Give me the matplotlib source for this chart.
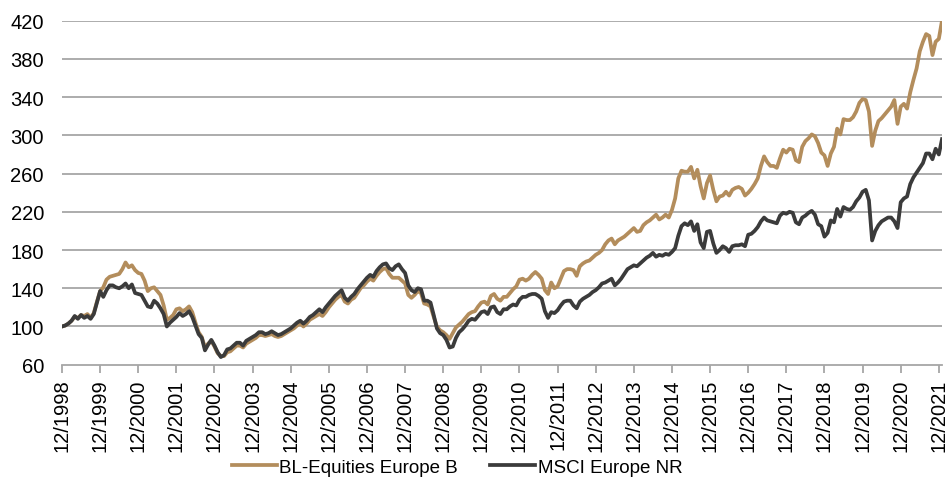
import matplotlib
matplotlib.use("Agg")
import matplotlib.pyplot as plt
import numpy as np

plt.rcParams['font.family'] = ['Liberation Sans', 'DejaVu Sans']

# Monthly index values, 12/1998 = 100
msci = [100,
    101, 103, 106, 111, 108, 112, 109, 111, 108, 113, 125, 137,   # 1999
    131, 138, 143, 143, 141, 140, 142, 145, 140, 144, 135, 134,   # 2000
    133, 127, 121, 120, 127, 124, 119, 113, 100, 104, 107, 110,   # 2001
    114, 111, 113, 116, 110, 101, 92, 88, 75, 81, 86, 80,         # 2002
    73, 68, 70, 76, 77, 80, 83, 83, 80, 85, 87, 89,               # 2003
    91, 94, 94, 92, 93, 95, 93, 91, 92, 94, 96, 98,               # 2004
    101, 104, 106, 103, 106, 110, 112, 115, 118, 115, 120, 124,   # 2005
    128, 132, 135, 138, 130, 127, 131, 134, 139, 143, 147, 151,   # 2006
    154, 152, 158, 162, 165, 166, 161, 159, 163, 165, 160, 156,   # 2007
    143, 138, 136, 140, 139, 127, 127, 125, 112, 98, 93, 91,      # 2008
    86, 78, 79, 88, 94, 97, 101, 106, 108, 107, 111, 115,         # 2009
    116, 113, 120, 121, 115, 113, 118, 118, 121, 123, 122, 128,   # 2010
    131, 131, 133, 134, 134, 132, 129, 116, 109, 115, 114, 117,   # 2011
    122, 126, 127, 127, 122, 119, 126, 129, 131, 133, 136, 138,   # 2012
    141, 145, 146, 148, 150, 143, 146, 150, 155, 160, 162, 164,   # 2013
    163, 166, 169, 172, 174, 177, 173, 175, 174, 176, 175, 178,   # 2014
    182, 195, 205, 208, 206, 210, 200, 207, 188, 182, 199, 200,   # 2015
    187, 177, 180, 184, 182, 178, 184, 185, 185, 186, 184, 196,   # 2016
    197, 200, 204, 210, 214, 211, 210, 209, 208, 216, 219, 218,   # 2017
    220, 219, 209, 207, 214, 216, 219, 221, 217, 207, 205, 194,   # 2018
    198, 211, 209, 223, 215, 225, 223, 222, 225, 231, 235, 241,   # 2019
    243, 232, 190, 200, 206, 210, 212, 214, 214, 210, 203, 230,   # 2020
    234, 236, 249, 256, 261, 266, 271, 281, 281, 275, 286, 280, 296]  # 2021

bl_equities = [100,
    101, 103, 106, 110, 109, 112, 111, 113, 109, 114, 126, 137,   # 1999
    141, 149, 152, 153, 154, 155, 160, 167, 162, 164, 159, 156,   # 2000
    155, 148, 137, 140, 141, 137, 133, 122, 107, 109, 112, 118,   # 2001
    119, 116, 118, 121, 115, 104, 94, 89, 78, 82, 85, 79,         # 2002
    72, 69, 69, 73, 74, 77, 80, 80, 78, 82, 84, 86,               # 2003
    88, 91, 91, 90, 91, 92, 90, 89, 90, 92, 94, 96,               # 2004
    98, 101, 103, 100, 103, 107, 109, 111, 113, 111, 115, 120,    # 2005
    124, 128, 131, 133, 126, 124, 128, 130, 135, 140, 143, 147,   # 2006
    150, 148, 153, 157, 160, 161, 155, 151, 151, 151, 148, 145,   # 2007
    133, 130, 133, 137, 135, 124, 123, 121, 110, 100, 96, 94,     # 2008
    91, 87, 93, 99, 102, 105, 109, 113, 115, 116, 121, 125,       # 2009
    126, 123, 132, 134, 129, 127, 131, 131, 135, 139, 142, 149,   # 2010
    150, 148, 150, 154, 157, 154, 150, 138, 134, 146, 140, 142,   # 2011
    150, 158, 160, 160, 159, 153, 163, 166, 168, 169, 172, 175,   # 2012
    177, 180, 186, 190, 192, 186, 190, 192, 194, 197, 200, 203,   # 2013
    199, 200, 206, 209, 211, 214, 217, 212, 214, 217, 214, 222,   # 2014
    234, 255, 263, 262, 262, 267, 255, 264, 247, 234, 250, 258,   # 2015
    243, 231, 236, 237, 241, 237, 243, 245, 246, 244, 237, 240,   # 2016
    244, 249, 255, 268, 278, 272, 268, 268, 266, 276, 285, 282,   # 2017
    286, 285, 274, 272, 288, 294, 297, 301, 299, 292, 282, 279,   # 2018
    268, 281, 288, 307, 301, 317, 316, 316, 319, 325, 334, 338,   # 2019
    337, 325, 289, 305, 315, 318, 322, 326, 330, 337, 312, 330,   # 2020
    333, 328, 345, 358, 370, 388, 398, 406, 404, 384, 398, 401, 420]  # 2021

tick_labels = [f"12/{y}" for y in range(1998, 2022)]
y_ticks = [60, 100, 140, 180, 220, 260, 300, 340, 380, 420]

gold = '#B38D5C'
dark = '#3B3B3B'
grid = '#A6A6A6'

fig = plt.figure(figsize=(9.48, 4.81), dpi=100)
ax = fig.add_axes([62/948, 1-365.7/481, (942-62)/948, (365.7-21.7)/481])

x = np.arange(len(msci))
ax.plot(x, bl_equities, color=gold, lw=2.7, label='BL-Equities Europe B', solid_joinstyle='round', zorder=3)
ax.plot(x, msci, color=dark, lw=2.7, label='MSCI Europe NR', solid_joinstyle='round', zorder=4)

ax.set_ylim(60, 420)
ax.set_xlim(0, len(msci) - 1)
ax.set_yticks(y_ticks)
ax.set_yticklabels([str(v) for v in y_ticks])
ax.set_xticks(np.arange(0, 12 * len(tick_labels), 12))
ax.set_xticklabels(tick_labels, rotation=90)

for v in y_ticks[1:]:
    ax.axhline(v, color=grid, lw=1.3, zorder=1)

for s in ['top', 'right', 'left']:
    ax.spines[s].set_visible(False)
ax.spines['bottom'].set_color(grid)
ax.spines['bottom'].set_linewidth(1.3)

ax.tick_params(axis='y', length=0, pad=13, labelsize=14.5, colors='black')
ax.tick_params(axis='x', length=6, width=1.3, color=grid, pad=4, labelsize=14.5)

fig.legend(loc='center', bbox_to_anchor=(457/948, 1-468/481), ncol=2, frameon=False,
           fontsize=13.5, handlelength=2.4, handletextpad=0.15, columnspacing=1.7)

fig.savefig('out.png', dpi=100)
